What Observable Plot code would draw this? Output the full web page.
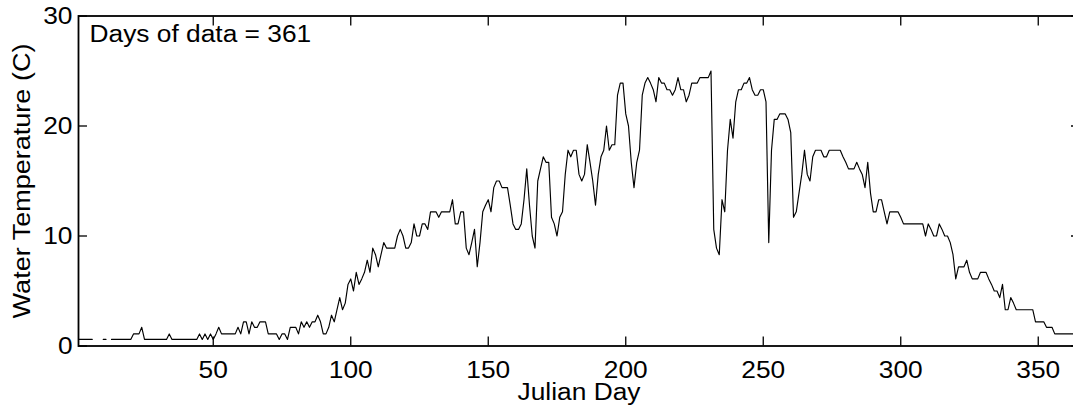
<!DOCTYPE html>
<html>
<head>
<meta charset="utf-8">
<script src="https://cdn.jsdelivr.net/npm/d3@7"></script>
<script src="https://cdn.jsdelivr.net/npm/@observablehq/plot@0.6"></script>
<style>
  html, body { margin: 0; padding: 0; background: #fff; overflow: hidden; }
</style>
</head>
<body>
<div id="chart"></div>
<script>
// Daily water temperature (C), Julian days 1..363 (null = no data)
const firstDay = 1;
const temps = [
  0.6,0.6,0.6,0.6,0.6,0.6, null,null,null, 0.6,0.6, null,
  0.6,0.6,0.6,0.6,0.6,0.6,0.6,0.6, 1.1,1.1,1.1,1.7,0.6,
  0.6,0.6,0.6,0.6,0.6,0.6,0.6,0.6, 1.1,
  0.6,0.6,0.6,0.6,0.6,0.6,0.6,0.6,0.6,0.6,
  1.1,0.6,1.1,0.6,1.1,0.6,1.1,1.7,1.1,1.1, // 45-54
  1.1,1.1,1.1,1.1,1.7,1.1,2.2,2.2,1.1,2.2, // 55-64
  1.7,1.7,2.2,2.2,2.2,1.1,1.1,1.1,1.1,0.6, // 65-74
  1.1,1.1,0.6,1.7,1.7,1.7,1.1,2.2,1.7,2.2, // 75-84
  1.7,2.2,2.2,2.8,2.2,1.1,1.1,1.7,2.8,2.2, // 85-94
  3.3,4.4,3.3,3.9,5.6,6.1,5.0,6.7,5.6,6.1, // 95-104
  6.7,7.8,6.7,8.9,8.3,7.2,8.3,9.4,8.9,8.9, // 105-114
  8.9,8.9,10.0,10.6,10.0,8.9,8.9,9.4,11.1,10.0, // 115-124
  10.0,11.1,11.1,10.6,12.2,12.2,12.2,11.7,12.2,12.2, // 125-134
  12.2,12.2,13.3,11.1,11.1,12.2,12.2,8.9,8.3,9.4, // 135-144
  10.6,7.2,9.4,12.2,12.8,13.3,12.2,14.4,15.0,15.0, // 145-154
  14.4,14.4,14.4,12.8,11.1,10.6,10.6,11.1,13.3,16.1, // 155-164
  12.8,10.0,8.9,15.0,16.1,17.2,16.7,16.7,11.7,11.1, // 165-174
  10.0,11.7,12.2,15.6,17.8,17.2,17.8,17.8,15.6,15.0, // 175-184
  15.6,18.3,16.7,15.0,12.8,15.6,17.2,17.8,20.0,17.8, // 185-194
  18.3,18.3,22.8,23.9,23.9,21.1,20.0,16.7,14.4,16.7, // 195-204
  17.8,22.8,23.9,24.4,23.9,23.3,22.2,24.4,23.9,23.9, // 205-214
  23.3,23.3,22.8,23.3,24.4,23.3,23.3,22.2,22.8,23.9, // 215-224
  23.9,23.9,24.4,24.4,24.4,24.4,25.0,10.6,8.9,8.3,   // 225-234
  13.3,12.2,17.8,20.6,18.9,22.2,23.3,23.3,23.9,23.9, // 235-244
  24.4,23.3,22.8,22.8,23.3,23.3,22.2,9.4,17.8,20.6,  // 245-254
  20.6,21.1,21.1,21.1,20.6,19.4,11.7,12.2,13.9,15.6, // 255-264
  17.8,15.6,15.0,17.2,17.8,17.8,17.8,17.2,17.2,17.8, // 265-274
  17.8,17.8,17.8,17.8,17.2,16.7,16.1,16.1,16.1,16.7, // 275-284
  16.1,15.6,14.4,16.7,13.9,12.2,12.2,13.3,13.3,12.2, // 285-294
  11.1,12.2,12.2,12.2,12.2,11.7,11.1,11.1,11.1,11.1, // 295-304
  11.1,11.1,11.1,11.1,10.0,11.1,10.6,10.0,10.0,11.1, // 305-314
  10.6,10.0,10.0,9.4,8.3,6.1,7.2,7.2,7.2,7.8,        // 315-324
  6.7,6.1,6.1,6.1,6.7,6.7,6.7,6.1,5.6,5.0,           // 325-334
  5.0,4.4,5.6,3.3,3.3,4.4,3.9,3.3,3.3,3.3,           // 335-344
  3.3,3.3,3.3,3.3,2.2,2.2,2.2,2.2,1.7,1.7,           // 345-354
  1.7,1.1,1.1,1.1,1.1,1.1,1.1,1.1,1.1                // 355-363
];
const xTicks = [50, 100, 150, 200, 250, 300, 350];
const yTicks = [0, 10, 20, 30];
const xLabel = "Julian Day";
const yLabel = "Water Temperature (C)";
const note = ["Days of data = 361"];

const rows = temps.map((t, i) => ({day: firstDay + i, temp: t}));

const font = "'Liberation Sans', Arial, Helvetica, sans-serif";
const fs = 23.5;

const chart = Plot.plot({
  width: 1073,
  height: 417,
  marginLeft: 78,
  marginRight: -6,
  marginTop: 15.5,
  marginBottom: 71.5,
  style: {fontFamily: font, fontSize: fs + "px", color: "black", background: "white", overflow: "visible"},
  x: {domain: [1, 365]},
  y: {domain: [0, 30]},
  marks: [
    Plot.line(rows, {x: "day", y: "temp", stroke: "black", strokeWidth: 1.15}),
    Plot.frame({stroke: "black", strokeWidth: 1.8}),
    Plot.axisX(xTicks, {anchor: "bottom", tickSize: -9, tickPadding: 24.5, strokeWidth: 1.3,
      fontSize: fs, label: xLabel, labelAnchor: "center", labelOffset: 54, labelArrow: "none"}),
    Plot.axisX(xTicks, {anchor: "top", tickSize: -9, strokeWidth: 1.3, tickFormat: () => "", label: null}),
    Plot.axisY(yTicks, {anchor: "left", tickSize: -9, tickPadding: 15, strokeWidth: 1.3,
      fontSize: fs, label: yLabel, labelAnchor: "center", labelOffset: 65.5, labelArrow: "none"}),
    Plot.axisY(yTicks, {anchor: "right", tickSize: -9, strokeWidth: 1.3, tickFormat: () => "", label: null}),
    Plot.text(note, {frameAnchor: "top-left", dx: 11, dy: 9.5, text: d => d, fontSize: fs, fill: "black"})
  ]
});
document.getElementById("chart").appendChild(chart);

// The reference typeface is a little wider than Liberation Sans: stretch glyphs along the text direction.
chart.querySelectorAll("text").forEach(t => {
  const len = t.getComputedTextLength();
  if (len > 0) {
    const k = t.textContent.trim() === yLabel ? 1.15 : 1.12;
    t.setAttribute("textLength", (len * k).toFixed(1));
    t.setAttribute("lengthAdjust", "spacingAndGlyphs");
  }
});
</script>
</body>
</html>
